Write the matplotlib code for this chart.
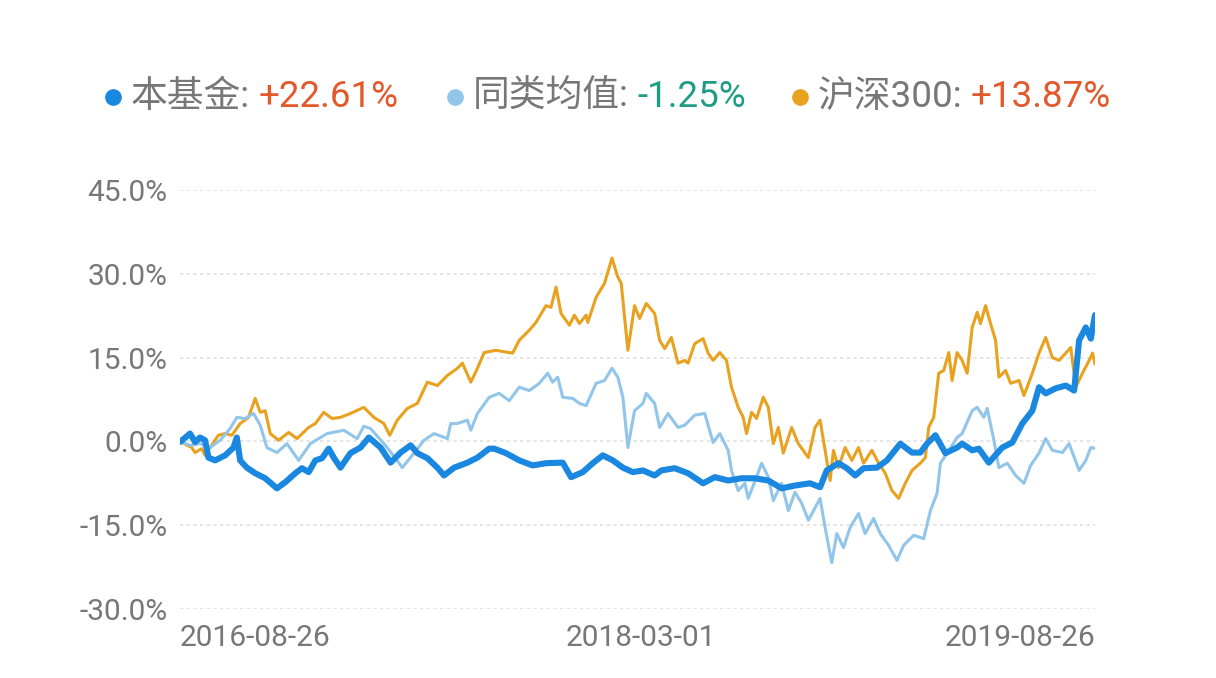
import matplotlib
matplotlib.use("Agg")
import matplotlib.pyplot as plt
import pandas as pd
from matplotlib.lines import Line2D

# cumulative return (%) vs. days since the start date
START = "2016-08-26"

fund_days = [0, 12, 18, 24, 30, 34, 42, 54, 64, 68, 72, 80, 90, 102, 116, 126, 138, 146,
             154, 162, 170, 178, 184, 192, 204, 216, 226, 240, 252, 264, 276, 284, 296,
             308, 316, 328, 344, 356, 370, 376, 390, 406, 422, 438, 458, 468, 482, 494,
             506, 518, 530, 542, 554, 568, 576, 592, 608, 626, 640, 656, 672, 688, 704,
             720, 736, 754, 766, 774, 788, 798, 808, 818, 834, 846, 862, 876, 886, 894,
             904, 916, 930, 936, 948, 956, 968, 984, 996, 1008, 1020, 1028, 1036, 1048,
             1060, 1070, 1076, 1084, 1090, 1095]
fund_pct = [-0.1, 1.4, -0.1, 0.7, 0.2, -2.9, -3.4, -2.5, -1.1, 0.7, -3.4, -4.7, -5.7, -6.6,
            -8.4, -7.3, -5.7, -4.8, -5.5, -3.4, -3.0, -1.3, -2.9, -4.7, -2.1, -1.1, 0.7,
            -1.1, -3.8, -2.0, -0.7, -2.1, -3.0, -4.7, -6.1, -4.7, -3.8, -2.9, -1.3, -1.3,
            -2.1, -3.4, -4.3, -3.9, -3.8, -6.4, -5.5, -3.9, -2.5, -3.4, -4.7, -5.5, -5.2,
            -6.1, -5.2, -4.8, -5.7, -7.5, -6.4, -7.0, -6.6, -6.6, -7.0, -8.4, -7.9, -7.5,
            -8.2, -5.2, -3.9, -4.8, -6.1, -4.8, -4.7, -3.4, -0.4, -2.0, -2.0, -0.4, 1.1,
            -2.1, -1.1, -0.4, -1.6, -1.3, -3.8, -1.1, -0.2, 3.2, 5.5, 9.7, 8.6, 9.5, 10.0,
            9.1, 18.1, 20.4, 18.4, 22.61]

peer_days = [0, 12, 24, 36, 48, 60, 68, 78, 88, 96, 104, 116, 128, 142, 156, 176, 196,
             212, 220, 228, 244, 260, 266, 280, 292, 304, 320, 324, 332, 344, 348, 356,
             370, 382, 394, 406, 418, 430, 440, 446, 452, 458, 470, 478, 486, 498, 508,
             517, 524, 530, 536, 544, 554, 558, 568, 574, 584, 596, 604, 616, 628, 638,
             646, 656, 660, 668, 676, 680, 690, 696, 704, 710, 720, 728, 736, 744, 752,
             766, 772, 780, 786, 794, 802, 812, 820, 830, 838, 848, 858, 866, 878, 890,
             898, 906, 910, 918, 930, 936, 948, 954, 962, 966, 974, 980, 990, 1000, 1010,
             1018, 1028, 1036, 1044, 1056, 1064, 1076, 1084, 1090, 1095]
peer_pct = [0.0, -0.7, -0.4, -1.1, 0.2, 2.3, 4.3, 4.1, 5.0, 2.9, -1.1, -2.0, -0.4, -3.4,
            -0.4, 1.4, 2.0, 0.5, 2.7, 2.3, -0.4, -3.4, -4.7, -2.1, 0.2, 1.4, 0.5, 3.2,
            3.2, 3.8, 2.0, 5.0, 7.9, 8.6, 7.3, 9.7, 9.1, 10.4, 12.2, 10.6, 11.5, 7.9, 7.7,
            6.8, 6.4, 10.4, 10.9, 13.1, 11.5, 7.9, -1.1, 5.5, 6.8, 8.6, 6.8, 2.5, 5.0,
            2.5, 2.9, 4.7, 5.0, -0.2, 1.4, -1.6, -5.2, -8.8, -7.5, -10.2, -6.4, -3.9,
            -6.4, -10.6, -7.5, -12.4, -9.1, -11.1, -14.1, -10.2, -15.4, -21.7, -16.5,
            -19.0, -15.4, -12.9, -16.5, -13.8, -16.5, -18.6, -21.3, -18.6, -16.8, -17.4,
            -12.4, -9.3, -3.9, -2.1, 0.7, 1.4, 5.5, 6.1, 4.3, 5.9, 0.2, -4.7, -3.9, -6.1,
            -7.5, -4.3, -2.1, 0.5, -1.6, -2.0, -0.4, -5.2, -3.4, -1.1, -1.25]

csi_days = [0, 14, 18, 26, 30, 40, 46, 54, 62, 72, 82, 90, 96, 102, 108, 118, 130, 140,
            154, 162, 172, 182, 192, 204, 220, 232, 244, 251, 260, 272, 284, 296, 308,
            320, 332, 338, 348, 356, 364, 378, 398, 406, 418, 426, 438, 444, 450, 456,
            466, 472, 478, 486, 488, 498, 508, 517, 524, 528, 536, 544, 550, 558, 568,
            574, 580, 588, 596, 604, 608, 616, 626, 632, 638, 646, 654, 660, 668, 674,
            678, 684, 690, 698, 704, 710, 716, 722, 732, 740, 752, 760, 766, 772, 778,
            782, 788, 796, 804, 812, 818, 828, 836, 844, 852, 860, 868, 876, 886, 892,
            896, 902, 908, 914, 920, 924, 930, 936, 942, 948, 954, 958, 964, 970, 976,
            980, 988, 994, 1004, 1010, 1020, 1028, 1036, 1044, 1052, 1060, 1066, 1072,
            1080, 1088, 1092, 1095]
csi_pct = [0.0, -1.1, -2.0, -1.3, -2.5, -0.2, 1.1, 1.4, 1.1, 3.2, 4.3, 7.7, 5.2, 5.5,
           1.4, 0.2, 1.6, 0.5, 2.5, 3.2, 5.2, 4.1, 4.3, 5.0, 6.1, 4.3, 3.2, 1.1, 3.8,
           5.9, 6.8, 10.6, 10.0, 11.8, 13.1, 14.0, 10.6, 13.1, 15.9, 16.3, 15.8, 18.1,
           19.9, 21.3, 24.3, 24.0, 27.6, 22.9, 20.8, 22.6, 21.1, 22.6, 21.3, 25.8, 28.3,
           32.8, 29.4, 28.3, 16.3, 24.3, 22.0, 24.7, 22.9, 18.1, 16.6, 18.6, 14.0, 14.5,
           14.0, 17.5, 18.4, 15.8, 14.5, 15.9, 14.5, 9.7, 6.1, 4.3, 1.4, 5.2, 4.1, 7.9,
           6.1, -0.4, 2.5, -2.1, 2.5, -0.4, -2.9, 2.5, 3.8, -1.6, -7.0, -1.6, -4.7, -1.1,
           -3.4, -1.1, -3.9, -1.6, -3.9, -5.7, -8.8, -10.2, -7.5, -5.2, -3.9, -2.9, 2.5,
           4.3, 12.2, 12.7, 15.9, 10.9, 15.9, 14.5, 12.2, 20.4, 23.1, 21.1, 24.3, 21.1,
           18.1, 11.5, 12.7, 10.4, 10.9, 8.2, 12.2, 15.8, 18.6, 15.0, 14.5, 15.8, 16.8,
           9.7, 12.2, 14.5, 15.8, 13.87]

legend_labels = ["本基金:", "同类均值:", "沪深300:"]
legend_values = ["+22.61%", "-1.25%", "+13.87%"]
value_colors = ["#e2592c", "#1f9c86", "#e2592c"]
line_colors = ["#1a88e0", "#92c5ea", "#e8a21f"]

y_ticks = [-30, -15, 0, 15, 30, 45]
x_tick_dates = ["2016-08-26", "2018-03-01", "2019-08-26"]

FONT = ["Roboto", "Noto Sans CJK SC", "DejaVu Sans"]
GREY = "#777777"
W, H = 1216, 678


def to_dates(days):
    return pd.Timestamp(START) + pd.to_timedelta(days, unit="D")


fig = plt.figure(figsize=(W / 100, H / 100), dpi=100)
fig.patch.set_facecolor("white")
ax = fig.add_axes([180 / W, 1 - 609 / H, 915 / W, 419 / H])

ax.plot(to_dates(csi_days), csi_pct, color=line_colors[2], lw=2.2, zorder=3)
ax.plot(to_dates(peer_days), peer_pct, color=line_colors[1], lw=2.2, zorder=4)
ax.plot(to_dates(fund_days), fund_pct, color=line_colors[0], lw=4.4, zorder=5,
        solid_joinstyle="round", solid_capstyle="round")

ax.set_ylim(-30, 45)
ax.set_xlim(pd.Timestamp(START), to_dates([1095])[0])
ax.set_yticks(y_ticks)
ax.set_yticklabels([f"{v:.1f}%" for v in y_ticks])
ax.set_xticks(pd.to_datetime(x_tick_dates))
ax.set_xticklabels(x_tick_dates)
for lab, ha in zip(ax.get_xticklabels(), ["left", "center", "right"]):
    lab.set_ha(ha)

ax.tick_params(axis="both", length=0, colors=GREY, labelsize=21.5)
ax.tick_params(axis="y", pad=9)
ax.tick_params(axis="x", pad=11)
for lab in ax.get_xticklabels() + ax.get_yticklabels():
    lab.set_family(FONT)

ax.grid(axis="y", color="#e0e0e0", lw=1.2, ls=(0, (2, 2)))
ax.grid(axis="x", visible=False)
for s in ax.spines.values():
    s.set_visible(False)
ax.set_axisbelow(True)

# legend row on top: dot, grey name, coloured value
renderer = fig.canvas.get_renderer()
dot_x = [113, 455, 800]
row_y = 1 - 97 / H
for i in range(3):
    fig.add_artist(Line2D([dot_x[i] / W], [row_y], marker="o", ms=11,
                          color=line_colors[i], transform=fig.transFigure, lw=0))
    t = fig.text((dot_x[i] + 18) / W, row_y, legend_labels[i], color=GREY,
                 fontsize=26.5, family=FONT, va="center", ha="left")
    bb = t.get_window_extent(renderer)
    fig.text((bb.x1 + 8) / W, row_y, legend_values[i], color=value_colors[i],
             fontsize=26.5, family=FONT, va="center", ha="left")

fig.savefig("out.png", dpi=100, facecolor="white")
